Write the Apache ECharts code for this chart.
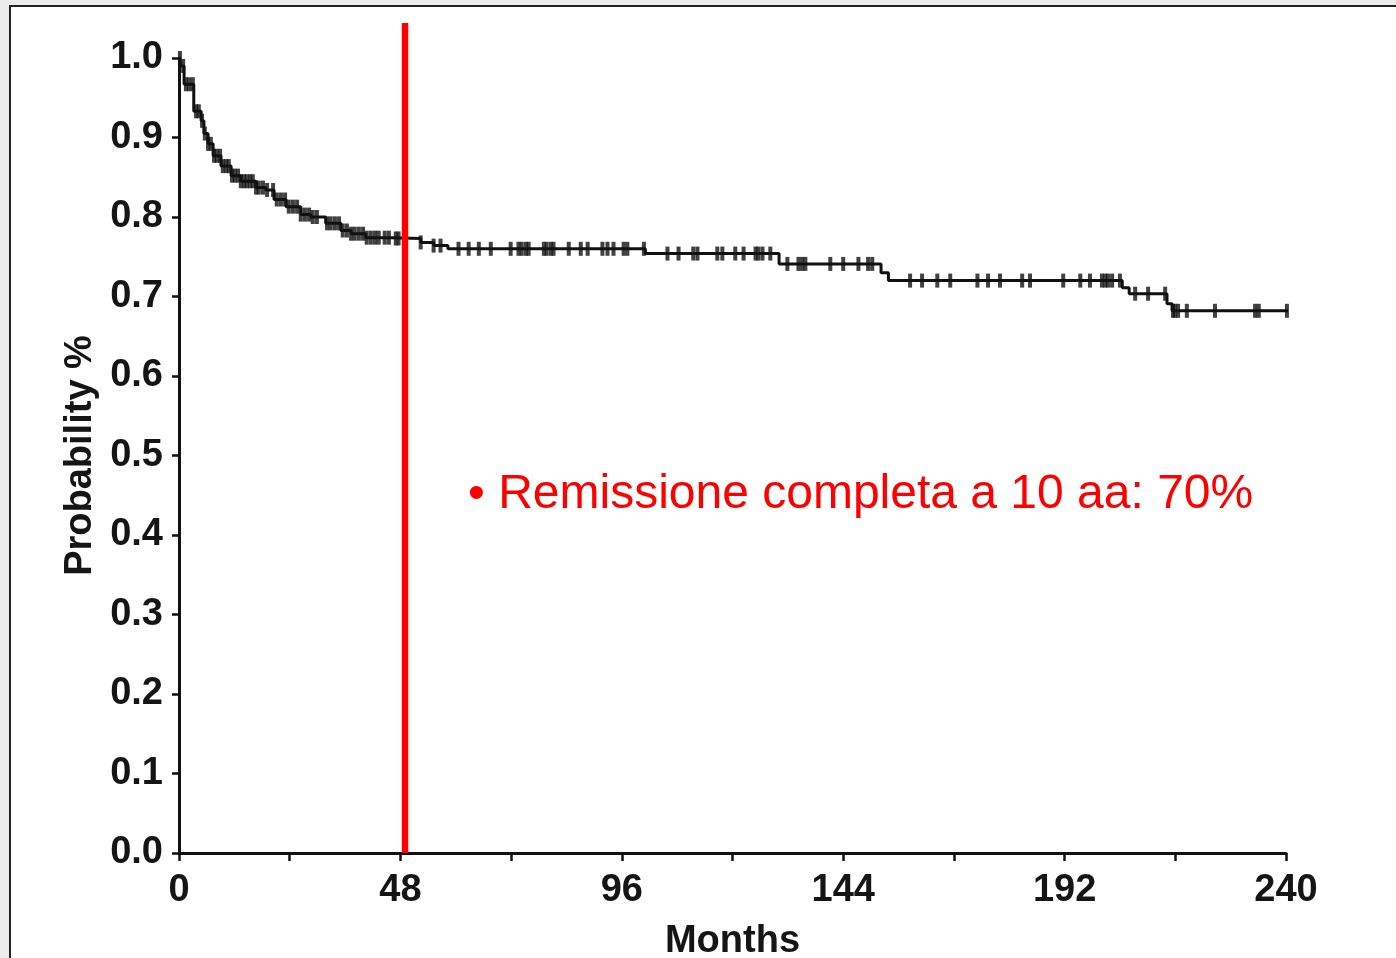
<!DOCTYPE html>
<html>
<head>
<meta charset="utf-8">
<script src="https://cdn.jsdelivr.net/npm/echarts@6/dist/echarts.min.js"></script>
<style>
  html, body { margin: 0; padding: 0; background: #ececec; width: 1396px; height: 958px; overflow: hidden; }
  #frame { position: absolute; left: 9px; top: 5px; width: 1400px; height: 1000px; background: #fff; border: 2px solid #222; }
  #chart { position: absolute; left: 0; top: 0; width: 1396px; height: 958px; }
</style>
</head>
<body>
<div id="frame"></div>
<div id="chart"></div>
<script>
// Kaplan-Meier step events: [month, probability after the step]
const eventMonths = [0, 0.4, 1.1, 3.2, 4.8, 5.4, 6.3, 7.4, 9.1, 11.3, 13.4, 16.7, 18.8, 20.6, 23.2, 26.4, 28.6, 31.8, 35.1, 37.3, 40.5, 45.9, 52.4, 55.2, 58.3, 101.1, 130.1, 152.2, 153.8, 204.5, 206.0, 214.2, 215.3, 242.4];
const eventProb   = [1.0, 0.99, 0.967, 0.933, 0.921, 0.905, 0.892, 0.877, 0.864, 0.852, 0.845, 0.837, 0.834, 0.822, 0.813, 0.803, 0.800, 0.792, 0.783, 0.779, 0.774, 0.773, 0.768, 0.764, 0.760, 0.754, 0.741, 0.730, 0.720, 0.711, 0.7035, 0.691, 0.682, 0.682];

// Censored observations (months)
const censorMonths = [0.2, 0.9, 1.5, 2.2, 3.0, 3.7, 4.3, 5.0, 5.6, 6.3, 6.9, 7.6, 8.2, 8.9, 9.5, 10.2, 10.8, 11.5, 12.1, 12.8, 13.4, 14.1, 14.7, 15.4, 16.0, 16.7, 17.3, 18.2, 19.1, 20.4, 21.2, 22.1, 23.0, 23.8, 24.7, 25.6, 26.4, 27.3, 28.2, 29.0, 29.9, 32.1, 32.9, 33.8, 34.7, 35.5, 36.4, 37.3, 38.1, 39.0, 39.9, 40.7, 41.6, 42.5, 43.3, 44.6, 45.5, 47.0, 47.6,
  52.4, 55.2, 56.7, 60.6, 62.8, 65.0, 67.6, 71.9, 73.6, 74.3, 75.2, 75.8, 79.1, 79.7, 80.6, 81.2, 84.5, 87.1, 88.6, 91.8, 92.9, 94.2, 96.4, 97.2, 100.8, 105.9, 108.3, 111.5, 112.4, 116.7, 117.8, 120.6, 122.4, 125.0, 125.6, 126.5, 128.2, 131.9, 134.3, 135.1, 135.8, 141.2, 144.0, 147.3, 149.4, 150.3,
  158.5, 161.1, 164.4, 167.2, 173.1, 175.4, 178.0, 182.8, 184.5, 191.7, 195.4, 197.5, 200.1, 200.8, 201.4, 202.3, 204.0, 207.3, 210.1, 213.8, 215.5, 215.9, 216.6, 218.5, 224.6, 233.3, 234.1, 240.2];

const xTicks = [0, 48, 96, 144, 192, 240];
const yMin = 0, yMax = 1, yStep = 0.1;
const xMin = 0, xMax = 240, xStep = 24;
const redLineMonth = 49;
const redLineTop = 1.044;
const noteText = '• Remissione completa a 10 aa: 70%';

function survivalAt(t) {
  let s = eventProb[0];
  for (let i = 0; i < eventMonths.length; i++) {
    if (eventMonths[i] <= t) s = eventProb[i]; else break;
  }
  return s;
}

const curveData = eventMonths.map((m, i) => [m, eventProb[i]]);
const censorData = censorMonths.map(m => [m, survivalAt(m)]);
const redLineData = [[redLineMonth, yMin], [redLineMonth, redLineTop]];

const chart = echarts.init(document.getElementById('chart'), null, { renderer: 'canvas', width: 1396, height: 958 });
const axisFont = '"Liberation Sans", Arial, sans-serif';

chart.setOption({
  backgroundColor: 'transparent',
  animation: false,
  grid: { left: 179, top: 58, width: 1107, height: 795, outerBoundsMode: 'none', containLabel: false },
  xAxis: {
    type: 'value', min: xMin, max: xMax, interval: xStep,
    name: 'Months', nameLocation: 'middle', nameGap: 70,
    nameTextStyle: { fontFamily: axisFont, fontWeight: 'bold', fontSize: 38, color: '#151515' },
    axisLine: { show: true, lineStyle: { color: '#111', width: 3 } },
    axisTick: { show: true, length: 8, lineStyle: { color: '#111', width: 2.5 } },
    splitLine: { show: false },
    axisLabel: {
      margin: 19, fontFamily: axisFont, fontWeight: 'bold', fontSize: 38, color: '#151515',
      formatter: v => (xTicks.indexOf(v) >= 0 ? String(v) : '')
    }
  },
  yAxis: {
    type: 'value', min: yMin, max: yMax, interval: yStep,
    name: 'Probability %', nameLocation: 'middle', nameGap: 73,
    nameTextStyle: { fontFamily: axisFont, fontWeight: 'bold', fontSize: 38, color: '#151515' },
    axisLine: { show: true, lineStyle: { color: '#111', width: 3 } },
    axisTick: { show: true, length: 7, lineStyle: { color: '#111', width: 2.5 } },
    splitLine: { show: false },
    axisLabel: {
      margin: 16, fontFamily: axisFont, fontWeight: 'bold', fontSize: 38, color: '#151515',
      formatter: v => v.toFixed(1)
    }
  },
  series: [
    {
      type: 'line', step: 'end', data: curveData, clip: false,
      showSymbol: false, symbol: 'none',
      lineStyle: { color: '#111', width: 3 },
      z: 3
    },
    {
      type: 'scatter', data: censorData, clip: false,
      symbol: 'rect', symbolSize: [4, 14],
      itemStyle: { color: '#111' }, z: 4
    },
    {
      type: 'line', data: redLineData, clip: false,
      showSymbol: false, symbol: 'none',
      lineStyle: { color: '#ff0000', width: 6.5 },
      z: 5
    }
  ],
  graphic: [
    {
      type: 'text', left: 468, top: 471,
      style: { text: noteText, fill: '#ff0000', fontFamily: '"Liberation Sans", Arial, sans-serif', fontSize: 48 }
    }
  ]
});
</script>
</body>
</html>
